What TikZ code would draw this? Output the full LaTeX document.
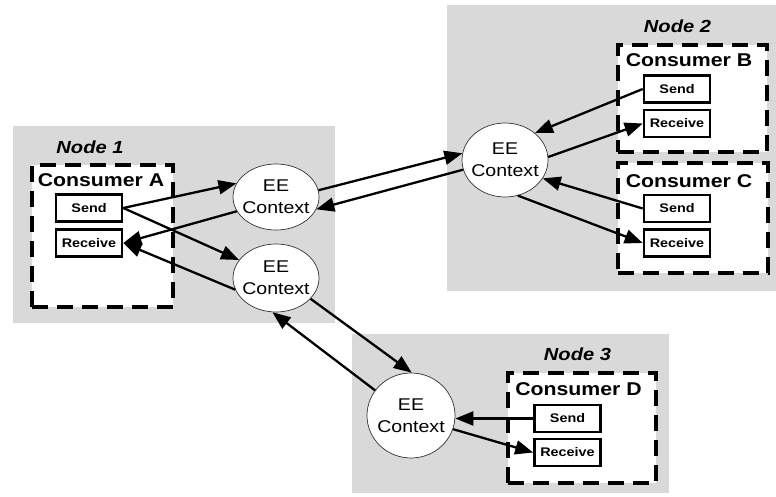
\documentclass[tikz,border=0pt]{standalone}
\usepackage{fontspec}
\setmainfont{Liberation Sans}[FakeStretch=1.15]
\usetikzlibrary{arrows.meta,shapes.geometric}
\begin{document}
\begin{tikzpicture}[x=1pt,y=-1pt,
  region/.style={fill=black!15,draw=none,inner sep=0pt},
  consumer/.style={draw,fill=white,line width=4pt,dash pattern=on 16pt off 9pt,inner sep=0pt},
  port/.style={draw,fill=white,line width=2.6pt,minimum width=66pt,minimum height=27pt,inner sep=0pt,font=\bfseries\fontsize{12.5}{14}\selectfont},
  ctx/.style={ellipse,draw=black!80,fill=white,line width=0.7pt,inner xsep=-6pt,inner ysep=0pt,align=center,font=\fontsize{17}{22}\selectfont},
  ctitle/.style={font=\bfseries\fontsize{18.5}{20}\selectfont,inner sep=0pt},
  ntitle/.style={font=\bfseries\itshape\fontsize{17.5}{20}\selectfont,inner sep=0pt},
  flow/.style={line width=2.3pt,-{Triangle[length=18pt,width=14pt]}}]
\useasboundingbox (0,0) rectangle (776,497);
% regions
\node[region,minimum width=322pt,minimum height=197pt] (n1) at (174,224.5) {};
\node[region,minimum width=329pt,minimum height=286pt] (n2) at (611.5,148) {};
\node[region,minimum width=317pt,minimum height=159pt] (n3) at (510.5,413.5) {};
\node[ntitle] (n1t) at (90,147.5) {Node 1};
\node[ntitle] (n2t) at (677.5,26) {Node 2};
\node[ntitle] (n3t) at (577.5,354) {Node 3};
% consumers
\node[consumer,minimum width=141pt,minimum height=142pt] (cA) at (102.5,236) {};
\node[consumer,minimum width=149pt,minimum height=107pt] (cB) at (692.5,98.5) {};
\node[consumer,minimum width=150pt,minimum height=110pt] (cC) at (693,218) {};
\node[consumer,minimum width=148pt,minimum height=110pt] (cD) at (582,428) {};
\node[ctitle] (cAt) at (101,180) {Consumer A};
\node[ctitle] (cBt) at (689,60) {Consumer B};
\node[ctitle] (cCt) at (689,181) {Consumer C};
\node[ctitle] (cDt) at (578.5,389) {Consumer D};
% ports
\node[port] (As) at (89,208) {Send};
\node[port] (Ar) at (89,243) {Receive};
\node[port] (Bs) at (677,89) {Send};
\node[port] (Br) at (677,123.5) {Receive};
\node[port] (Cs) at (677,208.5) {Send};
\node[port] (Cr) at (677,243) {Receive};
\node[port] (Ds) at (567.5,418.5) {Send};
\node[port] (Dr) at (567.5,452.5) {Receive};
% contexts
\node[ctx,minimum width=86pt,minimum height=66pt] (e1) at (276,197) {EE\\Context};
\node[ctx,minimum width=86pt,minimum height=68pt] (e2) at (276,278) {EE\\Context};
\node[ctx,minimum width=86pt,minimum height=74pt] (e3) at (505,160) {EE\\Context};
\node[ctx,minimum width=88pt,minimum height=85pt] (e4) at (411,415.5) {EE\\Context};
% flows
\draw[flow] (As.east) -- (e1.161);
\draw[flow] (As.east) -- (e2.154);
\draw[flow] (e1.200) -- (Ar.east);
\draw[flow] (e2.196) -- (Ar.east);
\draw[flow] (e1.9) -- (e3.171);
\draw[flow] (e3.193) -- (e1.343);
\draw[flow] (Bs.west) -- (e3.42);
\draw[flow] (e3.4) -- (Br.west);
\draw[flow] (Cs.west) -- (e3.334);
\draw[flow] (e3.290) -- (Cr.west);
\draw[flow] (e2.329) -- (e4.89);
\draw[flow] (e4.145) -- (e2.264);
\draw[flow] (Ds.west) -- (Ds.west -| e4.east);
\draw[flow] (e4.342) -- (Dr.west);
\end{tikzpicture}
\end{document}
